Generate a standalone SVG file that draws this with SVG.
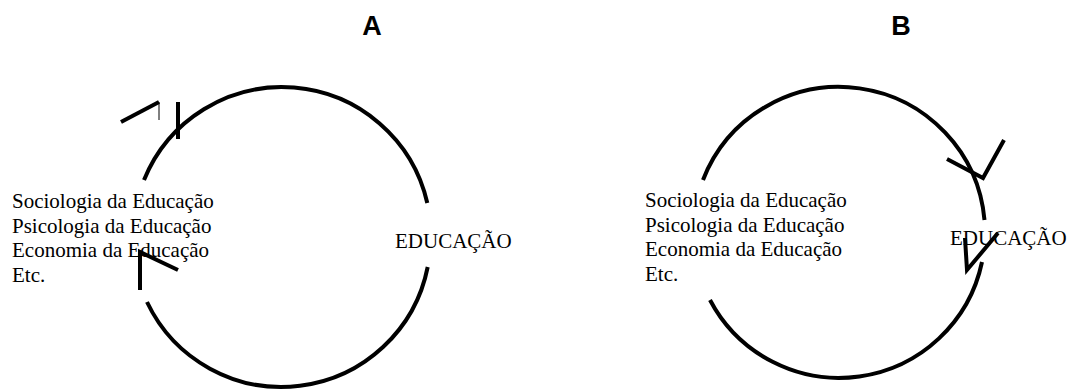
<svg xmlns="http://www.w3.org/2000/svg" width="1073" height="392" viewBox="0 0 1073 392">
<style>
.t{font-family:"Liberation Serif","Times New Roman",serif;font-size:21px;fill:#000}
.h{font-family:"Liberation Sans",Arial,sans-serif;font-size:27px;font-weight:bold;fill:#000;text-anchor:middle}
.c{fill:none;stroke:#000;stroke-width:4}
.a{fill:none;stroke:#000;stroke-width:4;stroke-linecap:butt;stroke-linejoin:miter}
</style>
<rect width="1073" height="392" fill="#fff"/>
<g id="titleA"><text class="h" x="372" y="35">A</text></g>
<g id="titleB"><text class="h" x="901" y="35">B</text></g>
<g id="connectors">
<path class="c" d="M144,180 A149,149 0 0 1 427.3,203"/>
<path class="c" d="M427.7,267 A149,149 0 0 1 147,302"/>
<path class="a" d="M121,122 L159,102"/>
<path d="M159,102 L159,120" fill="none" stroke="#000" stroke-width="1"/>
<path class="a" d="M178,102 L178,139"/>
<path class="a" d="M178,270 L140,252 L140,290"/>
<path class="c" d="M703,180 A146,146 0 0 1 984.5,220"/>
<path class="c" d="M982,262 A146,146 0 0 1 710,300"/>
<path class="a" d="M947,159 L983,178 L1004,140"/>
<path class="a" d="M965,238 L967,270 L998,233"/>
</g>
<g id="nodeA-left"><text class="t"><tspan x="12" y="208">Sociologia da Educação</tspan><tspan x="12" y="232.5">Psicologia da Educação</tspan><tspan x="12" y="257">Economia da Educação</tspan><tspan x="12" y="281.5">Etc.</tspan></text></g>
<g id="nodeA-right"><text class="t" x="395" y="248">EDUCAÇÃO</text></g>
<g id="nodeB-left"><text class="t"><tspan x="645" y="207">Sociologia da Educação</tspan><tspan x="645" y="231.5">Psicologia da Educação</tspan><tspan x="645" y="256">Economia da Educação</tspan><tspan x="645" y="280.5">Etc.</tspan></text></g>
<g id="nodeB-right"><text class="t" x="950" y="245">EDUCAÇÃO</text></g>
</svg>
